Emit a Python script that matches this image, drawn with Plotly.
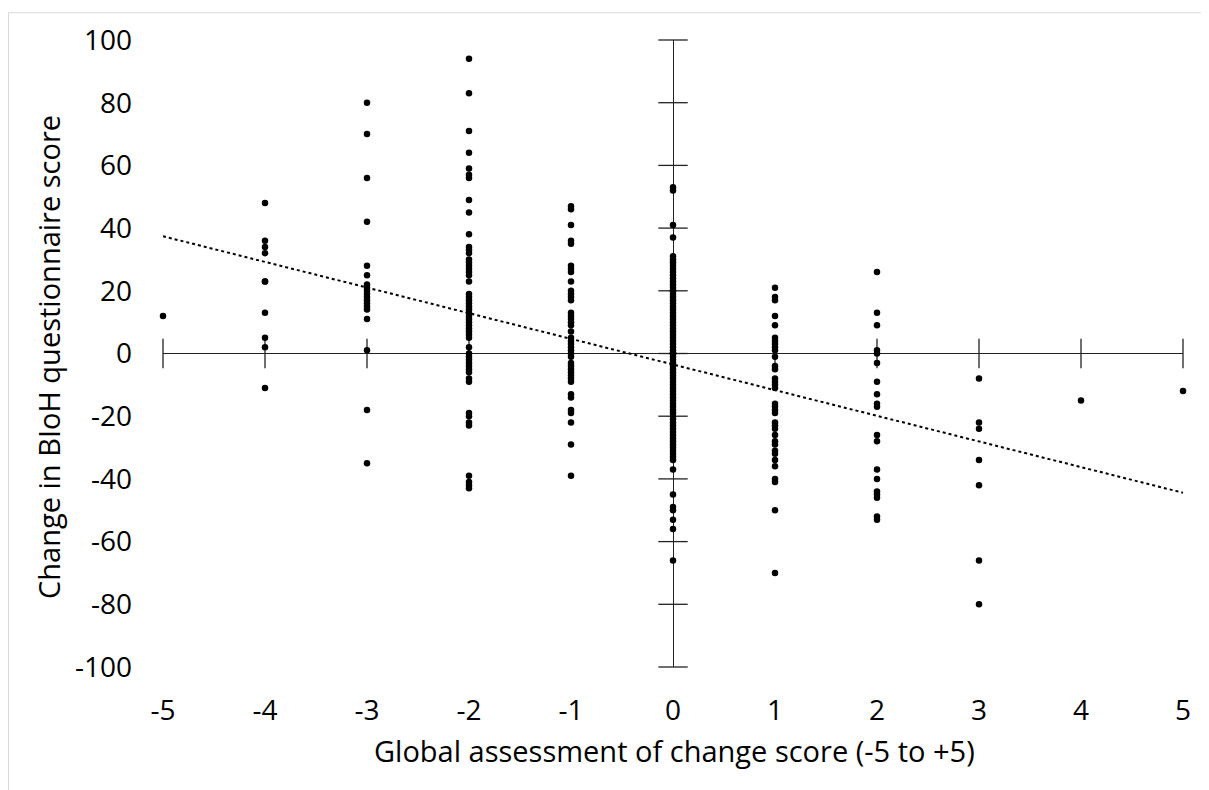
import numpy as np
import plotly.graph_objects as go

# Global assessment of change score categories and the BIoH change values read per category
gac_m5 = [12]
gac_m4 = [48, 36, 34, 32, 23, 23, 13, 5, 2, -11]
gac_m3 = [80, 70, 56, 42, 28, 25, 22, 21, 20, 19, 18, 17, 16, 15, 14, 11, 1, -18, -35]
gac_m2 = [94, 83, 71, 64, 59, 57, 56, 49, 45, 38, 34, 33, 32, 30, 29, 28, 27, 26, 25, 23,
          19, 18, 17, 16, 15, 14, 13, 12, 11, 10, 9, 8, 7, 6, 5, 2, 0, -1, -2, -3, -4, -5,
          -6, -8, -9, -19, -20, -22, -23, -39, -41, -42, -43]
gac_m1 = [47, 46, 41, 36, 35, 28, 27, 26, 23, 20, 19, 18, 17, 13, 12, 11, 10, 9, 7, 5, 4, 3,
          2, 1, 0, -1, -3, -4, -5, -6, -7, -8, -9, -13, -14, -18, -19, -22, -29, -39]
gac_0 = [53, 52, 41, 37, 31, 30, 29, 28, 27, 26, 25, 24, 23, 22, 21, 20, 20, 19, 18, 17, 16,
         15, 14, 13, 12, 11, 10, 9, 8, 7, 6, 5, 4, 3, 2, 1, 0, 0, 0, -1, -2, -3, -4, -5, -6,
         -7, -8, -9, -10, -11, -12, -13, -14, -15, -16, -17, -18, -19, -20, -21, -22, -23,
         -24, -25, -26, -27, -28, -29, -30, -31, -32, -33, -34, -37, -45, -49, -50, -53, -56, -66]
gac_p1 = [21, 18, 17, 12, 9, 5, 4, 3, 2, 1, -1, -4, -5, -8, -9, -10, -11, -16, -17, -18, -19,
          -22, -23, -24, -26, -28, -29, -31, -32, -34, -36, -40, -41, -50, -70]
gac_p2 = [26, 13, 9, 1, 0, -3, -9, -13, -16, -17, -26, -28, -37, -40, -44, -45, -46, -52, -53]
gac_p3 = [-8, -22, -24, -34, -42, -66, -80]
gac_p4 = [-15]
gac_p5 = [-12]

groups = {-5: gac_m5, -4: gac_m4, -3: gac_m3, -2: gac_m2, -1: gac_m1, 0: gac_0,
          1: gac_p1, 2: gac_p2, 3: gac_p3, 4: gac_p4, 5: gac_p5}

x_ticks = [-5, -4, -3, -2, -1, 0, 1, 2, 3, 4, 5]
y_ticks = [-100, -80, -60, -40, -20, 0, 20, 40, 60, 80, 100]

xs, ys = [], []
for k, vals in groups.items():
    xs += [k] * len(vals)
    ys += vals

slope, intercept = np.polyfit(xs, ys, 1)
trend_x = [x_ticks[0], x_ticks[-1]]
trend_y = [slope * v + intercept for v in trend_x]

FONT = "Open Sans"
AX = "#222"

fig = go.Figure()

# tick marks crossing the axes (Excel style axes crossing at zero)
fig.add_trace(go.Scatter(x=x_ticks, y=[0] * len(x_ticks), mode="markers",
                         marker=dict(symbol="line-ns", size=21, line=dict(width=1.3, color=AX)),
                         cliponaxis=False, hoverinfo="skip"))
fig.add_trace(go.Scatter(x=[0] * len(y_ticks), y=y_ticks, mode="markers",
                         marker=dict(symbol="line-ew", size=21, line=dict(width=1.3, color=AX)),
                         cliponaxis=False, hoverinfo="skip"))

fig.add_trace(go.Scatter(x=xs, y=ys, mode="markers",
                         marker=dict(size=6.5, color="black"), cliponaxis=False))

fig.add_trace(go.Scatter(x=trend_x, y=trend_y, mode="lines",
                         line=dict(color="black", width=2, dash="dot"), cliponaxis=False))

# page has an 8px body margin, so the figure is sized/margined to put the plot area
# at page pixels x 163..1183, y 36..667
fig.update_layout(
    width=1201, height=782,
    margin=dict(l=155, r=26, t=28, b=123),
    paper_bgcolor="white", plot_bgcolor="white",
    showlegend=False,
    font=dict(family=FONT, color="black"),
    xaxis=dict(range=[-5, 5], tickvals=x_ticks, ticktext=[str(v) for v in x_ticks],
               showgrid=False, showline=False, ticks="", zeroline=True,
               zerolinecolor=AX, zerolinewidth=1.3,
               tickfont=dict(size=28, family=FONT), ticklabelstandoff=24),
    yaxis=dict(range=[-100, 100], tickvals=y_ticks, ticktext=[str(v) for v in y_ticks],
               showgrid=False, showline=False, ticks="", zeroline=True,
               zerolinecolor=AX, zerolinewidth=1.3,
               tickfont=dict(size=28, family=FONT), ticklabelstandoff=30),
    annotations=[
        dict(text="Global assessment of change score (-5 to +5)", xref="paper", yref="paper",
             x=(674 - 163) / 1020, y=(667 - 751) / 631, xanchor="center", yanchor="middle",
             showarrow=False, font=dict(size=29, family=FONT)),
        dict(text="Change in BIoH questionnaire score", xref="paper", yref="paper",
             x=(49 - 163) / 1020, y=(667 - 355) / 631, xanchor="center", yanchor="middle",
             textangle=-90, showarrow=False, font=dict(size=29, family=FONT)),
    ],
    shapes=[
        dict(type="line", xref="paper", yref="paper", x0=(8.5 - 163) / 1020, x1=(8.5 - 163) / 1020,
             y0=(667 - 800) / 631, y1=(667 - 8.5) / 631, line=dict(color="#d9d9d9", width=1)),
        dict(type="line", xref="paper", yref="paper", x0=(8.5 - 163) / 1020, x1=(1220 - 163) / 1020,
             y0=(667 - 8.5) / 631, y1=(667 - 8.5) / 631, line=dict(color="#d9d9d9", width=1)),
    ],
)

fig.write_html("out.html")
